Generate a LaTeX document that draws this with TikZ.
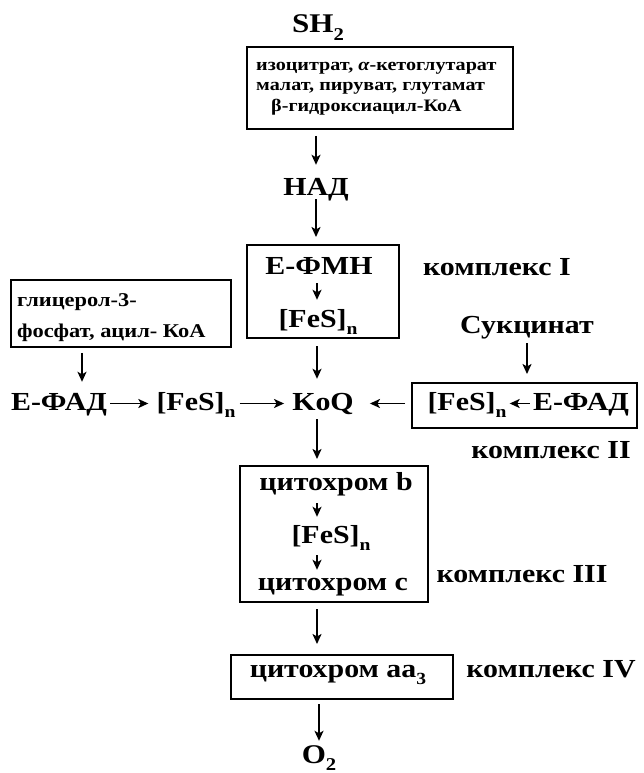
\documentclass[tikz,border=0pt]{standalone}
\usepackage{fontspec}
\setmainfont{Liberation Serif}[FakeStretch=1.15]
\usetikzlibrary{arrows.meta}
\newcommand{\lsub}[2][17]{\raisebox{-0.28em}{\fontsize{#1}{#1}\selectfont #2}}
\begin{document}
\begin{tikzpicture}[x=1pt,y=-1pt,
  font=\bfseries\fontsize{26}{30}\selectfont,
  txt/.style={inner sep=0pt, text height=17pt, text depth=4pt, anchor=base},
  small/.style={inner sep=0pt, anchor=base west, font=\bfseries\fontsize{17.5}{20}\selectfont},
  glt/.style={inner sep=0pt, anchor=base west, font=\bfseries\fontsize{19.5}{22}\selectfont},
  box/.style={draw, line width=2pt, inner sep=0pt},
  arr/.style={-{Stealth[length=10pt,width=9pt,inset=2.5pt]}, line width=1.8pt}]
\useasboundingbox (0,0) rectangle (643,773);

% main column reference
\coordinate (col) at (317,0);

% top
\node[txt, font=\bfseries\fontsize{27}{30}\selectfont] (sh2) at (318,33) {SH\lsub[18]{2}};
\node[box, line width=1.5pt, minimum width=266pt, minimum height=82pt] (topbox) at (380,88) {};
\node[small] (t1) at (256,71) {изоцитрат, \textit{α}-кетоглутарат};
\node[small] (t2) at (256,91) {малат, пируват, глутамат};
\node[small] (t3) at (271,112) {β-гидроксиацил-КоА};

\node[txt] (nad) at (316,195) {НАД};

% complex I
\node[box, minimum width=152pt, minimum height=93pt] (box1) at (323,291.5) {};
\node[txt] (efmn) at (319,274) {E-ФМН};
\node[txt] (fes1) at (318,327) {[FeS]\lsub{n}};
\node[txt] (k1) at (497,275) {комплекс I};

% left branch
\node[draw, line width=1.5pt, minimum width=220pt, minimum height=67pt, inner sep=0pt] (glbox) at (121,313.5) {};
\node[glt] (g1) at (17,306) {глицерол-3-};
\node[glt] (g2) at (17,337) {фосфат, ацил- КоА};

% KoQ row
\node[txt] (efad1) at (59,410) {E-ФАД};
\node[txt] (fesl) at (196,410) {[FeS]\lsub{n}};
\node[txt] (koq) at (323,410) {KoQ};

% complex II
\node[txt] (sukc) at (527,333) {Сукцинат};
\node[box, minimum width=225pt, minimum height=45pt] (box2) at (524.5,405.5) {};
\node[txt] (fes2) at (467,410) {[FeS]\lsub{n}};
\node[txt] (efad2) at (581,410) {E-ФАД};
\node[txt] (k2) at (551,458) {комплекс II};

% complex III
\node[box, minimum width=188pt, minimum height=136pt] (box3) at (334,534) {};
\node[txt] (cytb) at (336,490) {цитохром b};
\node[txt] (fes3) at (331,543) {[FeS]\lsub{n}};
\node[txt] (cytc) at (333,590) {цитохром c};
\node[txt] (k3) at (522,582) {комплекс III};

% complex IV
\node[box, minimum width=222pt, minimum height=44pt] (box4) at (342,677) {};
\node[txt] (cytaa) at (338,677) {цитохром аа\lsub{3}};
\node[txt] (k4) at (551,677) {комплекс IV};

\node[txt, font=\bfseries\fontsize{27}{30}\selectfont] (o2) at (319,763) {O\lsub[18]{2}};

% connectors
\draw[arr, shorten <=6pt, shorten >=13pt] (topbox.south -| nad) -- (nad.north);
\draw[arr, shorten <=0pt, shorten >=7pt] (nad.south) -- (box1.north -| nad);
\draw[arr, shorten <=5pt, shorten >=10pt] (efmn.south -| col) -- (fes1.north -| col);
\draw[arr, shorten <=7pt, shorten >=14pt] (box1.south -| col) -- (koq.north -| col);
\draw[arr, shorten <=6pt, shorten >=8pt] (sukc.south) -- (box2.north -| sukc);
\draw[arr, shorten <=6pt, shorten >=16pt] (box2.west |- koq) -- (koq.east);
\draw[arr, shorten <=3pt, shorten >=8pt] (efad1.east |- efad1) -- (fesl.west |- fesl);
\draw[arr, shorten <=4pt, shorten >=8pt] (fesl.east |- fesl) -- (koq.west |- koq);
\draw[arr, shorten <=5pt, shorten >=11pt] ([xshift=-39pt]glbox.south) -- ([xshift=-39pt]glbox.south |- efad1.north);
\draw[arr, shorten <=5pt, shorten >=6pt] (koq.south -| col) -- (box3.north -| col);
\draw[arr, shorten <=9pt, shorten >=9pt] (cytb.south -| col) -- (fes3.north -| col);
\draw[arr, shorten <=8pt, shorten >=3pt] (fes3.south -| col) -- (cytc.north -| col);
\draw[arr, shorten <=6pt, shorten >=10pt] (box3.south -| col) -- (box4.north -| col);
\draw[arr, shorten <=4pt, shorten >=5pt] (box4.south -| o2) -- (o2.north);
\draw[arr, shorten <=3pt, shorten >=3pt] (efad2.west |- efad2) -- (fes2.east |- fes2);
\end{tikzpicture}
\end{document}
